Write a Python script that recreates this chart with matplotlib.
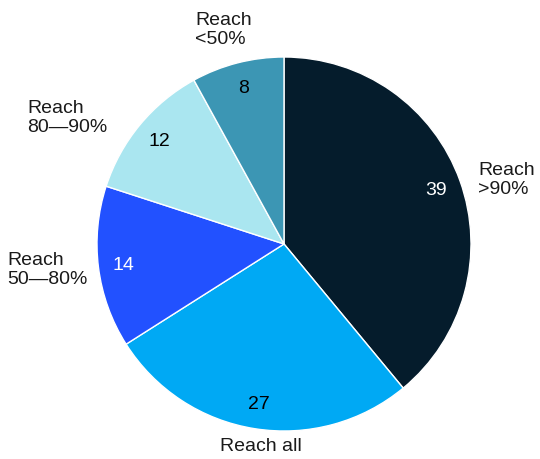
import matplotlib.pyplot as plt

plt.rcParams['font.family'] = ['Liberation Sans', 'DejaVu Sans']

# data
values = [39, 27, 14, 12, 8]
labels = ["Reach\n>90%", "Reach all", "Reach\n50\u201480%", "Reach\n80\u201490%", "Reach\n<50%"]
colors = ["#051c2c", "#00a9f4", "#2251ff", "#aae6f0", "#3c96b4"]
value_colors = ["white", "black", "white", "black", "black"]

# label placement (pixel coords, top-down) and alignment
label_pos = [(478, 180), (261, 447), (7, 270), (27, 118), (195, 30)]
label_ha = ["left", "center", "left", "left", "left"]

W, H = 540, 460
fig = plt.figure(figsize=(W / 100, H / 100), dpi=100)
ax = fig.add_axes([0, 0, 1, 1])
ax.set_xlim(0, W)
ax.set_ylim(0, H)
ax.set_aspect("equal")
ax.axis("off")

cx, cy, r = 284, H - 245, 187

wedges, texts = ax.pie(
    values, colors=colors, startangle=90, counterclock=False,
    center=(cx, cy), radius=r, labels=[str(v) for v in values],
    labeldistance=0.865, frame=False,
    wedgeprops=dict(edgecolor="white", linewidth=1),
    textprops=dict(fontsize=14),
)
ax.set_xlim(0, W)
ax.set_ylim(0, H)
for t, c in zip(texts, value_colors):
    t.set_color(c)
    t.set_ha("center")
    t.set_va("center")

for lbl, (px, py), ha in zip(labels, label_pos, label_ha):
    ax.text(px, H - py, lbl, ha=ha, va="center", fontsize=14,
            color="#1a1a1a", linespacing=1.15)

fig.savefig("out.png", dpi=100, facecolor="white")
